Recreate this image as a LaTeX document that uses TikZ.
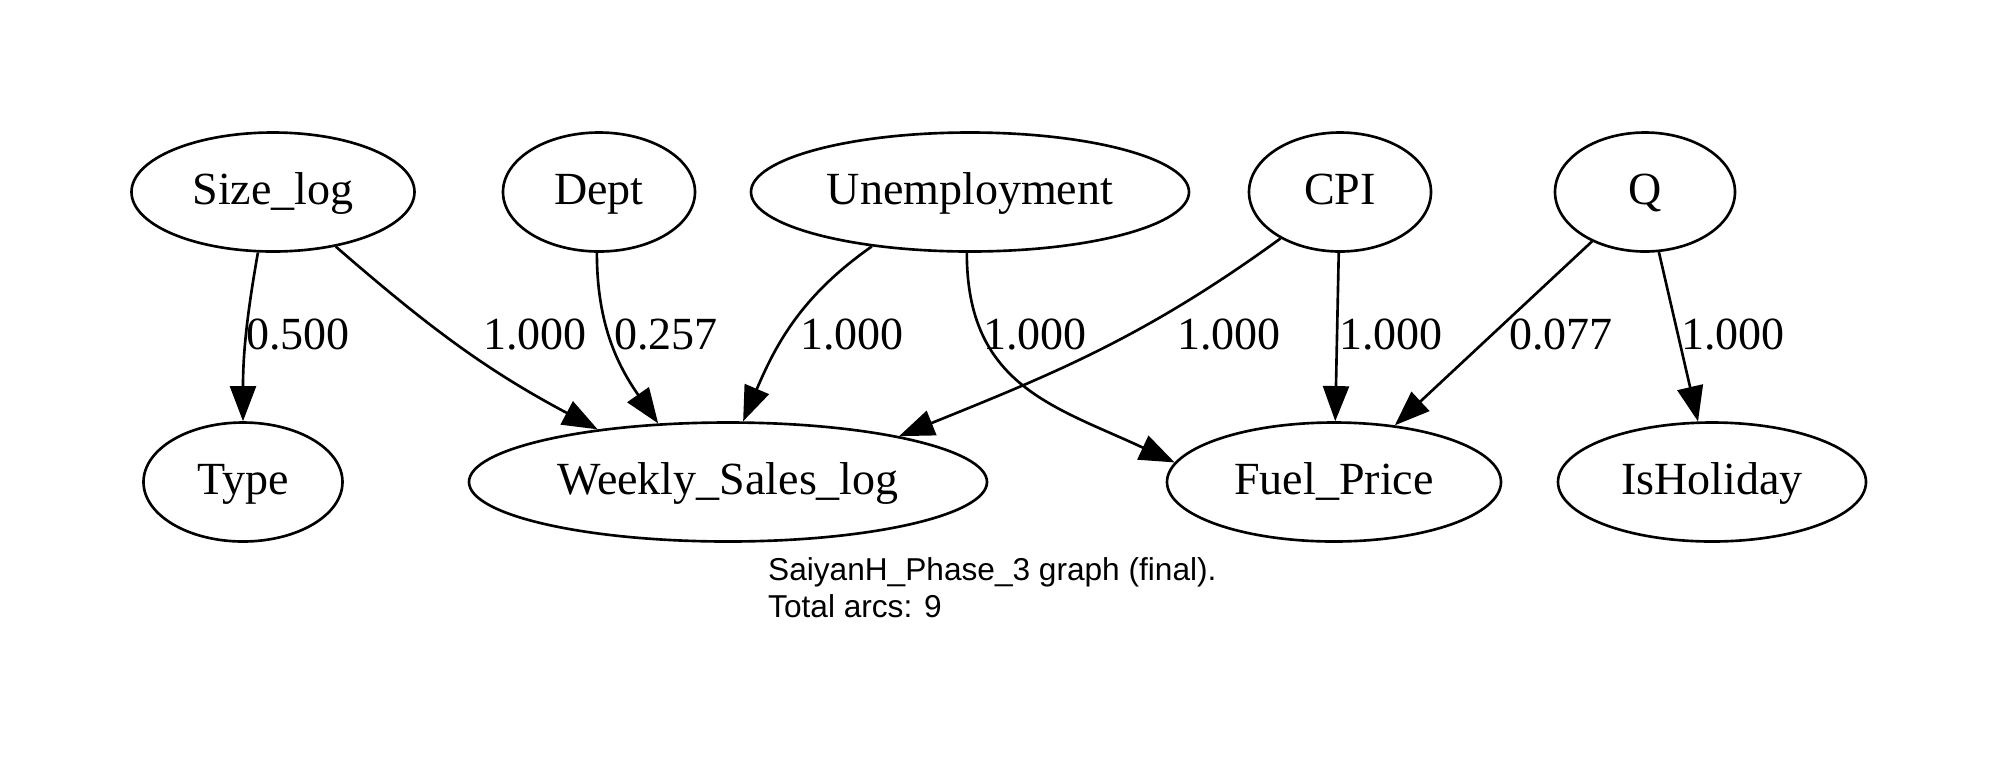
\documentclass[tikz,border=0pt]{standalone}
\usepackage{fontspec}
\setmainfont{Liberation Serif}
\newfontfamily\capfont{Liberation Sans}
\usetikzlibrary{shapes.geometric,arrows.meta}

\begin{document}
\begin{tikzpicture}[
  varnode/.style={draw, ellipse, line width=0.75pt, inner sep=0pt, minimum height=1.19cm,
    font=\fontsize{13.1}{15.7}\selectfont, text height=10pt, text depth=2.9pt},
  link/.style={line width=0.75pt, -{Triangle[length=10pt,width=7.4pt]}},
  weight/.style={inner sep=0pt, font=\fontsize{13.1}{15.7}\selectfont},
  capline/.style={inner sep=0pt, anchor=base west, font=\capfont\fontsize{9}{10.5}\selectfont}]

\useasboundingbox (0,0) rectangle (20,-7.73);

\node [varnode, minimum width=2.83cm] (sizelog) at (2.73,-1.92) {Size\_log};
\node [varnode, minimum width=1.92cm] (dept) at (5.99,-1.92) {Dept};
\node [varnode, minimum width=4.38cm] (unemp) at (9.70,-1.92) {Unemployment};
\node [varnode, minimum width=1.82cm] (cpi) at (13.40,-1.92) {CPI};
\node [varnode, minimum width=1.80cm] (q) at (16.45,-1.92) {Q};

\node [varnode, minimum width=1.99cm] (type) at (2.43,-4.82) {Type};
\node [varnode, minimum width=5.18cm] (sales) at (7.28,-4.82) {Weekly\_Sales\_log};
\node [varnode, minimum width=3.34cm] (fuel) at (13.34,-4.82) {Fuel\_Price};
\node [varnode, minimum width=3.08cm] (holiday) at (17.12,-4.82) {IsHoliday};

\draw [link] (sizelog.-104) to [out=-100, in=90] (type.north) ;
\draw [link] (sizelog.-41) to [out=-41, in=152] (sales.158) ;
\draw [link] (dept.-92) to [out=-90, in=125] (sales.140) ;
\draw [link] (unemp.209) to [out=-145, in=67] (sales.76) ;
\draw [link] (unemp.-93) to [out=-90, in=155, looseness=1.15] (fuel.173) ;
\draw [link] (cpi.218) to [out=-144, in=22] (sales.15) ;
\draw [link] (cpi) -- (fuel) ;
\draw [link] (q) -- (fuel) ;
\draw [link] (q) -- (holiday) ;

\node [weight] (w1) at (2.98,-3.345) {0.500};
\node [weight] (w2) at (5.35,-3.345) {1.000};
\node [weight] (w3) at (6.66,-3.345) {0.257};
\node [weight] (w4) at (8.52,-3.345) {1.000};
\node [weight] (w5) at (10.35,-3.345) {1.000};
\node [weight] (w6) at (12.29,-3.345) {1.000};
\node [weight] (w7) at (13.91,-3.345) {1.000};
\node [weight] (w8) at (15.61,-3.345) {0.077};
\node [weight] (w9) at (17.33,-3.345) {1.000};

\node [capline] (cap1) at (7.675,-5.80) {SaiyanH\_Phase\_3 graph (final).};
\node [capline] (cap2) at (7.675,-6.17) {Total arcs: 9};

\end{tikzpicture}
\end{document}
